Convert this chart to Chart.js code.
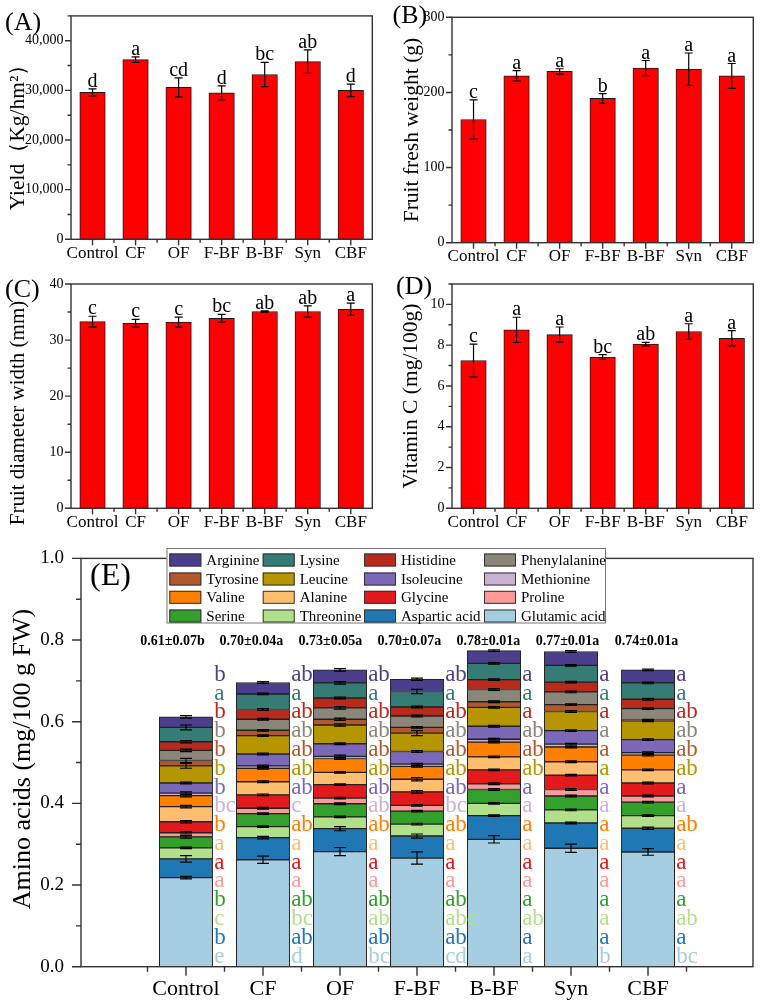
<!DOCTYPE html>
<html>
<head>
<meta charset="utf-8">
<script src="https://cdn.jsdelivr.net/npm/chart.js@4.4.1/dist/chart.umd.min.js"></script>
<style>
  body { margin: 0; background: #fff; }
  canvas { position: absolute; }
</style>
</head>
<body>
<canvas id="chartA" width="381" height="262" style="left:0;top:0"></canvas>
<canvas id="chartB" width="381" height="262" style="left:381px;top:0"></canvas>
<canvas id="chartC" width="381" height="272" style="left:0;top:262px"></canvas>
<canvas id="chartD" width="381" height="272" style="left:381px;top:262px"></canvas>
<canvas id="chartE" width="762" height="473" style="left:0;top:530px"></canvas>
<script>
const treatments = ["Control", "CF", "OF", "F-BF", "B-BF", "Syn", "CBF"];

// (A) yield
const yieldMean = [29600, 36200, 30600, 29500, 33200, 35800, 30000];
const yieldSd = [700, 560, 1900, 1400, 2450, 2350, 1250];
const yieldSig = ["d", "a", "cd", "d", "bc", "ab", "d"];

// (B) fruit fresh weight
const weightMean = [164, 222, 228, 192, 232.5, 231, 222];
const weightSd = [26, 7, 3.5, 6.5, 10, 21.5, 16.5];
const weightSig = ["c", "a", "a", "b", "a", "a", "a"];

// (C) fruit diameter width
const diameterMean = [33.3, 33.0, 33.2, 33.9, 35.1, 35.1, 35.5];
const diameterSd = [0.95, 0.7, 0.9, 0.7, 0.1, 1.0, 1.1];
const diameterSig = ["c", "c", "c", "bc", "ab", "ab", "a"];

// (D) vitamin C
const vitcMean = [7.25, 8.75, 8.52, 7.42, 8.05, 8.67, 8.34];
const vitcSd = [0.8, 0.62, 0.37, 0.12, 0.09, 0.38, 0.37];
const vitcSig = ["c", "a", "a", "bc", "ab", "a", "a"];

// (E) amino acids, stacked bottom -> top
const aminoAcids = ["Glutamic acid", "Aspartic acid", "Threonine", "Serine", "Proline", "Glycine", "Alanine", "Valine",
  "Methionine", "Isoleucine", "Leucine", "Tyrosine", "Phenylalanine", "Histidine", "Lysine", "Arginine"];
const aminoColors = ["#A6CEE3", "#1F78B4", "#B2DF8A", "#33A02C", "#FB9A99", "#E31A1C", "#FDBF6F", "#FF7F00",
  "#CAB2D6", "#7C68B8", "#B59600", "#B2582E", "#8A867A", "#B82A1C", "#357C74", "#4B3E8C"];

const glutamic = [0.218, 0.262, 0.282, 0.266, 0.312, 0.290, 0.281];
const aspartic = [0.046, 0.054, 0.056, 0.054, 0.058, 0.062, 0.058];
const threonine = [0.027, 0.027, 0.029, 0.029, 0.030, 0.032, 0.031];
const serine = [0.027, 0.032, 0.032, 0.032, 0.034, 0.034, 0.033];
const proline = [0.010, 0.013, 0.014, 0.014, 0.014, 0.016, 0.015];
const glycine = [0.027, 0.033, 0.033, 0.033, 0.034, 0.035, 0.032];
const alanine = [0.037, 0.032, 0.030, 0.031, 0.032, 0.033, 0.032];
const valine = [0.027, 0.033, 0.034, 0.032, 0.036, 0.036, 0.036];
const methionine = [0.006, 0.006, 0.005, 0.005, 0.007, 0.007, 0.006];
const isoleucine = [0.025, 0.029, 0.031, 0.031, 0.032, 0.033, 0.032];
const leucine = [0.042, 0.045, 0.046, 0.045, 0.046, 0.047, 0.046];
const tyrosine = [0.013, 0.013, 0.014, 0.014, 0.014, 0.017, 0.002];
const phenylalanine = [0.025, 0.027, 0.028, 0.028, 0.030, 0.031, 0.028];
const histidine = [0.021, 0.024, 0.024, 0.022, 0.024, 0.024, 0.023];
const lysine = [0.035, 0.038, 0.037, 0.038, 0.040, 0.041, 0.040];
const arginine = [0.026, 0.028, 0.032, 0.030, 0.031, 0.034, 0.032];
const aminoValues = [glutamic, aspartic, threonine, serine, proline, glycine, alanine, valine,
  methionine, isoleucine, leucine, tyrosine, phenylalanine, histidine, lysine, arginine];

const aminoSd = [
  [0.003, 0.009, 0.010, 0.015, 0.009, 0.010, 0.008],
  [0.008, 0.003, 0.005, 0.005, 0.002, 0.002, 0.003],
  [0.002, 0.002, 0.002, 0.002, 0.002, 0.002, 0.002],
  [0.003, 0.002, 0.002, 0.002, 0.002, 0.002, 0.002],
  [0.003, 0.002, 0.002, 0.002, 0.002, 0.002, 0.002],
  [0.003, 0.002, 0.002, 0.003, 0.002, 0.002, 0.002],
  [0.003, 0.002, 0.002, 0.004, 0.002, 0.002, 0.002],
  [0.003, 0.002, 0.002, 0.002, 0.002, 0.002, 0.002],
  [0.003, 0.002, 0.003, 0.002, 0.002, 0.002, 0.002],
  [0.002, 0.002, 0.002, 0.002, 0.002, 0.002, 0.002],
  [0.006, 0.002, 0.003, 0.006, 0.002, 0.002, 0.002],
  [0.005, 0.002, 0.003, 0.002, 0.002, 0.002, 0.002],
  [0.003, 0.002, 0.003, 0.002, 0.002, 0.002, 0.002],
  [0.003, 0.002, 0.002, 0.002, 0.002, 0.002, 0.002],
  [0.006, 0.002, 0.003, 0.005, 0.002, 0.002, 0.002],
  [0.003, 0.002, 0.003, 0.003, 0.002, 0.002, 0.002]
];

const aminoSig = [
  ["e", "d", "bc", "cd", "a", "b", "bc"],
  ["b", "ab", "ab", "ab", "a", "a", "a"],
  ["c", "bc", "ab", "abc", "ab", "a", "ab"],
  ["b", "ab", "ab", "ab", "a", "a", "a"],
  ["a", "a", "a", "a", "a", "a", "a"],
  ["a", "a", "a", "a", "a", "a", "a"],
  ["a", "a", "a", "a", "a", "a", "a"],
  ["b", "ab", "ab", "ab", "a", "a", "ab"],
  ["bc", "c", "ab", "bc", "a", "a", "a"],
  ["b", "ab", "ab", "ab", "a", "a", "a"],
  ["b", "ab", "ab", "ab", "ab", "a", "ab"],
  ["b", "ab", "ab", "ab", "ab", "a", "ab"],
  ["b", "ab", "ab", "ab", "ab", "a", "ab"],
  ["b", "ab", "ab", "ab", "a", "a", "ab"],
  ["a", "a", "a", "a", "a", "a", "a"],
  ["b", "ab", "ab", "ab", "a", "a", "a"]
];

const totalLabels = ["0.61±0.07b", "0.70±0.04a", "0.73±0.05a", "0.70±0.07a", "0.78±0.01a", "0.77±0.01a", "0.74±0.01a"];

const serif = '"Liberation Serif", "Times New Roman", serif';

// explicit y ticks: 0, step, 2*step ... up to max
function stepTicks(step) {
  return s => {
    const out = [];
    for (let k = 0; k * step <= s.max + 1e-9; k++) out.push({ value: k * step });
    s.ticks = out;
  };
}

// frame, outward ticks, error bars, letters, titles
const decor = {
  id: 'decor',
  afterDatasetsDraw(chart, args, o) {
    const { ctx, chartArea: a, scales: { x, y } } = chart;
    ctx.save();
    ctx.strokeStyle = '#333';
    ctx.lineWidth = 1.4;
    ctx.strokeRect(a.left, a.top, a.right - a.left, a.bottom - a.top);
    ctx.beginPath();
    for (let k = 0; k * o.yStep / 2 <= y.max + 1e-9; k++) {
      const py = y.getPixelForValue(k * o.yStep / 2);
      ctx.moveTo(a.left, py);
      ctx.lineTo(a.left - (k % 2 === 0 ? o.tickMajor : o.tickMinor), py);
    }
    for (let k = -1; k <= 13; k++) {
      const px = x.getPixelForValue(k / 2);
      if (px <= a.left + 1 || px >= a.right - 1) continue;
      ctx.moveTo(px, a.bottom);
      ctx.lineTo(px, a.bottom + (k % 2 === 0 ? o.tickMajor : o.tickMinor));
    }
    ctx.stroke();

    ctx.strokeStyle = '#000';
    ctx.lineWidth = 1.2;
    const errBar = (cx, yTop, h, cap) => {
      ctx.beginPath();
      ctx.moveTo(cx, yTop - h); ctx.lineTo(cx, yTop + h);
      ctx.moveTo(cx - cap / 2, yTop - h); ctx.lineTo(cx + cap / 2, yTop - h);
      ctx.moveTo(cx - cap / 2, yTop + h); ctx.lineTo(cx + cap / 2, yTop + h);
      ctx.stroke();
    };
    const unit = v => y.getPixelForValue(0) - y.getPixelForValue(v);

    if (o.mode === 'single') {
      const meta = chart.getDatasetMeta(0);
      ctx.font = '20px ' + serif;
      ctx.fillStyle = '#000';
      ctx.textAlign = 'center';
      ctx.textBaseline = 'alphabetic';
      meta.data.forEach((bar, i) => {
        const h = unit(o.sd[i]);
        errBar(bar.x, bar.y, h, 8);
        ctx.fillText(o.sig[i], bar.x, bar.y - h - 2);
      });
    } else {
      chart.data.datasets.forEach((ds, d) => {
        chart.getDatasetMeta(d).data.forEach((bar, i) => {
          errBar(bar.x, bar.y, Math.max(unit(ds.sd[i]), 0.7), 12);
        });
      });
      // significance letters, top row = top of stack
      ctx.font = '23px ' + serif;
      ctx.textAlign = 'left';
      ctx.textBaseline = 'alphabetic';
      const n = chart.data.datasets.length;
      chart.data.datasets.forEach((ds, d) => {
        const row = n - 1 - d;
        const py = y.getPixelForValue(0.700 - row * 0.046);
        ctx.fillStyle = ds.backgroundColor;
        chart.getDatasetMeta(d).data.forEach((bar, i) => {
          ctx.fillText(ds.sig[i], bar.x + bar.width / 2 + 1.5, py);
        });
      });
      // totals
      ctx.font = 'bold 14px ' + serif;
      ctx.fillStyle = '#000';
      ctx.textAlign = 'center';
      o.totals.forEach((t, i) => {
        ctx.fillText(t, x.getPixelForValue(-0.176 + i * 1.026), y.getPixelForValue(0.789));
      });
      // legend box
      const L = o.legend;
      ctx.fillStyle = '#fff';
      ctx.fillRect(L.x, L.y, L.w, L.h);
      ctx.strokeStyle = '#777';
      ctx.lineWidth = 1;
      ctx.strokeRect(L.x + 0.5, L.y + 0.5, L.w, L.h);
      ctx.font = '15px ' + serif;
      ctx.textAlign = 'left';
      ctx.textBaseline = 'middle';
      for (let r = 0; r < 4; r++) {
        for (let c = 0; c < 4; c++) {
          const ds = chart.data.datasets[n - 1 - (r * 4 + c)];
          const sx = L.cols[c], sy = L.rows[r];
          ctx.fillStyle = ds.backgroundColor;
          ctx.fillRect(sx, sy - 6.5, 32, 13);
          ctx.strokeStyle = '#333';
          ctx.strokeRect(sx + 0.5, sy - 6.5 + 0.5, 31, 12);
          ctx.fillStyle = '#000';
          ctx.fillText(ds.label, sx + 37, sy + 1);
        }
      }
    }
    // y axis title
    const t = o.title;
    ctx.save();
    ctx.translate(t.x, t.y);
    ctx.rotate(-Math.PI / 2);
    ctx.fillStyle = '#000';
    ctx.textAlign = 'center';
    ctx.textBaseline = 'middle';
    ctx.font = t.size + 'px ' + serif;
    ctx.fillText(t.text, 0, 0);
    ctx.restore();
    // panel tag
    ctx.fillStyle = '#000';
    ctx.textAlign = 'left';
    ctx.textBaseline = 'alphabetic';
    ctx.font = o.tag.size + 'px ' + serif;
    ctx.fillText(o.tag.text, o.tag.x, o.tag.y);
    ctx.restore();
  }
};

function barPanel(id, mean, sd, sig, cfg) {
  new Chart(document.getElementById(id), {
    type: 'bar',
    data: {
      labels: treatments,
      datasets: [{
        data: mean,
        backgroundColor: '#FF0000',
        borderColor: '#1a1a1a',
        borderWidth: 1,
        borderSkipped: false,
        barThickness: 25.5
      }]
    },
    options: {
      responsive: false,
      animation: false,
      devicePixelRatio: 1,
      layout: { padding: { top: cfg.top, right: 8.7, left: 0, bottom: 0 } },
      plugins: {
        legend: { display: false },
        tooltip: { enabled: false },
        decor: { mode: 'single', sd: sd, sig: sig, yStep: cfg.step, tickMajor: 6, tickMinor: 3.5, tag: cfg.tag, title: cfg.title }
      },
      scales: {
        x: {
          grid: { display: false, drawTicks: false },
          border: { display: false },
          ticks: { color: '#000', font: { family: serif, size: 17 }, padding: 4, maxRotation: 0, autoSkip: false },
          afterFit: s => { s.height = cfg.xh; }
        },
        y: {
          min: 0,
          max: cfg.max,
          grid: { display: false, drawTicks: false },
          border: { display: false },
          afterBuildTicks: stepTicks(cfg.step),
          ticks: {
            color: '#000', padding: 7.5,
            font: { family: serif, size: 14 },
            callback: v => v.toLocaleString('en-US')
          },
          afterFit: s => { s.width = 71; }
        }
      }
    },
    plugins: [decor]
  });
}

barPanel('chartA', yieldMean, yieldSd, yieldSig, {
  top: 15, xh: 22.7, max: 45000, step: 10000,
  title: { text: 'Yield（Kg/hm²）', x: 18, y: 132, size: 21.5 },
  tag: { text: '(A)', x: 5, y: 29.5, size: 26 }
});
barPanel('chartB', weightMean, weightSd, weightSig, {
  top: 17.3, xh: 19.3, max: 300, step: 100,
  title: { text: 'Fruit fresh weight (g)', x: 31.5, y: 130, size: 21.5 },
  tag: { text: '(B)', x: 11.5, y: 23, size: 26 }
});
barPanel('chartC', diameterMean, diameterSd, diameterSig, {
  top: 22, xh: 25.7, max: 40, step: 10,
  title: { text: 'Fruit diameter width (mm)', x: 18, y: 151, size: 21 },
  tag: { text: '(C)', x: 5, y: 34.5, size: 26 }
});
barPanel('chartD', vitcMean, vitcSd, vitcSig, {
  top: 22, xh: 25.7, max: 11, step: 2,
  title: { text: 'Vitamin C (mg/100g)', x: 30, y: 134, size: 21.5 },
  tag: { text: '(D)', x: 15, y: 31.5, size: 26 }
});

new Chart(document.getElementById('chartE'), {
  type: 'bar',
  data: {
    datasets: aminoAcids.map((name, k) => ({
      label: name,
      data: aminoValues[k].map((v, i) => ({ x: i, y: v })),
      sd: aminoSd[k],
      sig: aminoSig[k],
      backgroundColor: aminoColors[k],
      borderColor: '#222',
      borderWidth: 1,
      borderSkipped: false,
      barThickness: 53.3
    }))
  },
  options: {
    responsive: false,
    animation: false,
    devicePixelRatio: 1,
    layout: { padding: { top: 20, right: 9, left: 0, bottom: 0 } },
    plugins: {
      legend: { display: false },
      tooltip: { enabled: false },
      decor: {
        mode: 'stack', yStep: 0.2, tickMajor: 9, tickMinor: 5, totals: totalLabels,
        title: { text: 'Amino acids (mg/100 g FW)', x: 23, y: 229, size: 26 },
        tag: { text: '(E)', x: 90, y: 55, size: 32 },
        legend: { x: 166.5, y: 18, w: 438.5, h: 74.5, cols: [169.3, 262.7, 364, 484], rows: [30, 49, 67.3, 86] }
      }
    },
    scales: {
      x: {
        type: 'linear',
        min: -0.74,
        max: 6.74,
        stacked: true,
        grid: { display: false, drawTicks: false },
        border: { display: false },
        afterBuildTicks: s => { s.ticks = treatments.map((_, i) => ({ value: i })); },
        ticks: { color: '#000', font: { family: serif, size: 22 }, padding: 9, maxRotation: 0, autoSkip: false,
          callback: v => treatments[v] },
        afterFit: s => { s.height = 36.3; }
      },
      y: {
        min: 0,
        max: 1.0,
        stacked: true,
        grid: { display: false, drawTicks: false },
        border: { display: false },
        afterBuildTicks: stepTicks(0.2),
        ticks: { color: '#000', padding: 17, font: { family: serif, size: 19 },
          callback: v => v.toFixed(1) },
        afterFit: s => { s.width = 81; }
      }
    }
  },
  plugins: [decor]
});
</script>
</body>
</html>
